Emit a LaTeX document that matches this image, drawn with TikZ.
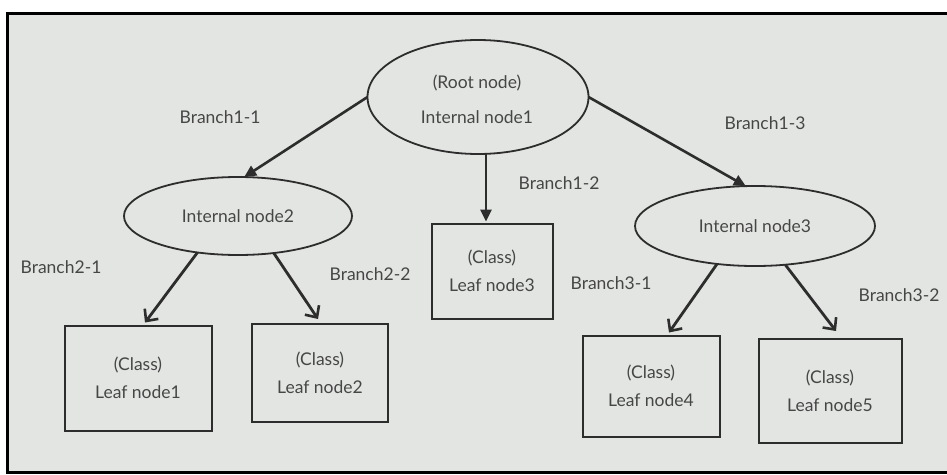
\documentclass[tikz,border=0pt]{standalone}
\usepackage{fontspec}
\setmainfont{Lato}
\usetikzlibrary{shapes.geometric,arrows.meta}
\definecolor{paper}{RGB}{226,229,225}
\definecolor{ink}{RGB}{45,45,45}
\definecolor{txt}{RGB}{70,70,70}
\tikzset{
  every node/.style={text=txt, font=\fontsize{17.5}{28}\selectfont, inner sep=0pt, outer sep=0pt},
  ell/.style={ellipse, draw=ink, line width=1.8pt},
  leafbox/.style={rectangle, draw=ink, line width=2pt, align=center},
  toparrow/.style={draw=ink, line width=2.6pt, -{Triangle[length=12pt,width=11pt]}},
  botarrow/.style={draw=ink, line width=2.8pt, -{Straight Barb[length=9pt,width=17pt,line width=2.6pt]}},
  blabel/.style={}
}
\begin{document}
\begin{tikzpicture}[x=1pt,y=-1pt]
\useasboundingbox (0,0) rectangle (947,474);
\fill[white] (0,0) rectangle (947,474);
\fill[paper] (7,13) rectangle (947,472);
\draw[black, line width=3pt] (947,13) -- (7,13) -- (7,472) -- (947,472);

\node[ell, minimum width=221pt, minimum height=114pt] (root) at (478,97) {};
\node (rt1) at (477,83) {(Root node)};
\node (rt2) at (477,117) {Internal node1};

\node[ell, minimum width=228pt, minimum height=78pt] (n2) at (238,216) {Internal node2};
\node[ell, minimum width=240pt, minimum height=80pt] (n3) at (755,226) {Internal node3};

\node[leafbox, minimum width=121pt, minimum height=95pt] (l3) at (492,271) {(Class)\\Leaf node3};
\node[leafbox, minimum width=147pt, minimum height=105pt] (l1) at (138,378) {(Class)\\Leaf node1};
\node[leafbox, minimum width=136pt, minimum height=98pt] (l2) at (320,373) {(Class)\\Leaf node2};
\node[leafbox, minimum width=137pt, minimum height=101pt] (l4) at (651,386) {(Class)\\Leaf node4};
\node[leafbox, minimum width=143pt, minimum height=104pt] (l5) at (830,391) {(Class)\\Leaf node5};

\draw[toparrow] (root.west) -- (n2.81);
\draw[toparrow] ([xshift=8pt]root.south) -- ([xshift=-6pt,yshift=2pt]l3.north);
\draw[toparrow] (root.east) -- (n3.103);
\draw[botarrow] (n2.-138) -- ([xshift=7pt,yshift=3pt]l1.north);
\draw[botarrow] (n2.-46) -- ([xshift=-2pt,yshift=5pt]l2.north);
\draw[botarrow] (n3.-135) -- ([xshift=18pt,yshift=3pt]l4.north);
\draw[botarrow] (n3.-52) -- ([xshift=6pt,yshift=8pt]l5.north);

\node[blabel] (b11) at (220,117) {Branch1-1};
\node[blabel] (b12) at (559,183) {Branch1-2};
\node[blabel] (b13) at (765,123) {Branch1-3};
\node[blabel] (b21) at (61,267) {Branch2-1};
\node[blabel] (b22) at (370,274) {Branch2-2};
\node[blabel] (b31) at (611,283) {Branch3-1};
\node[blabel] (b32) at (899,295) {Branch3-2};
\end{tikzpicture}
\end{document}
